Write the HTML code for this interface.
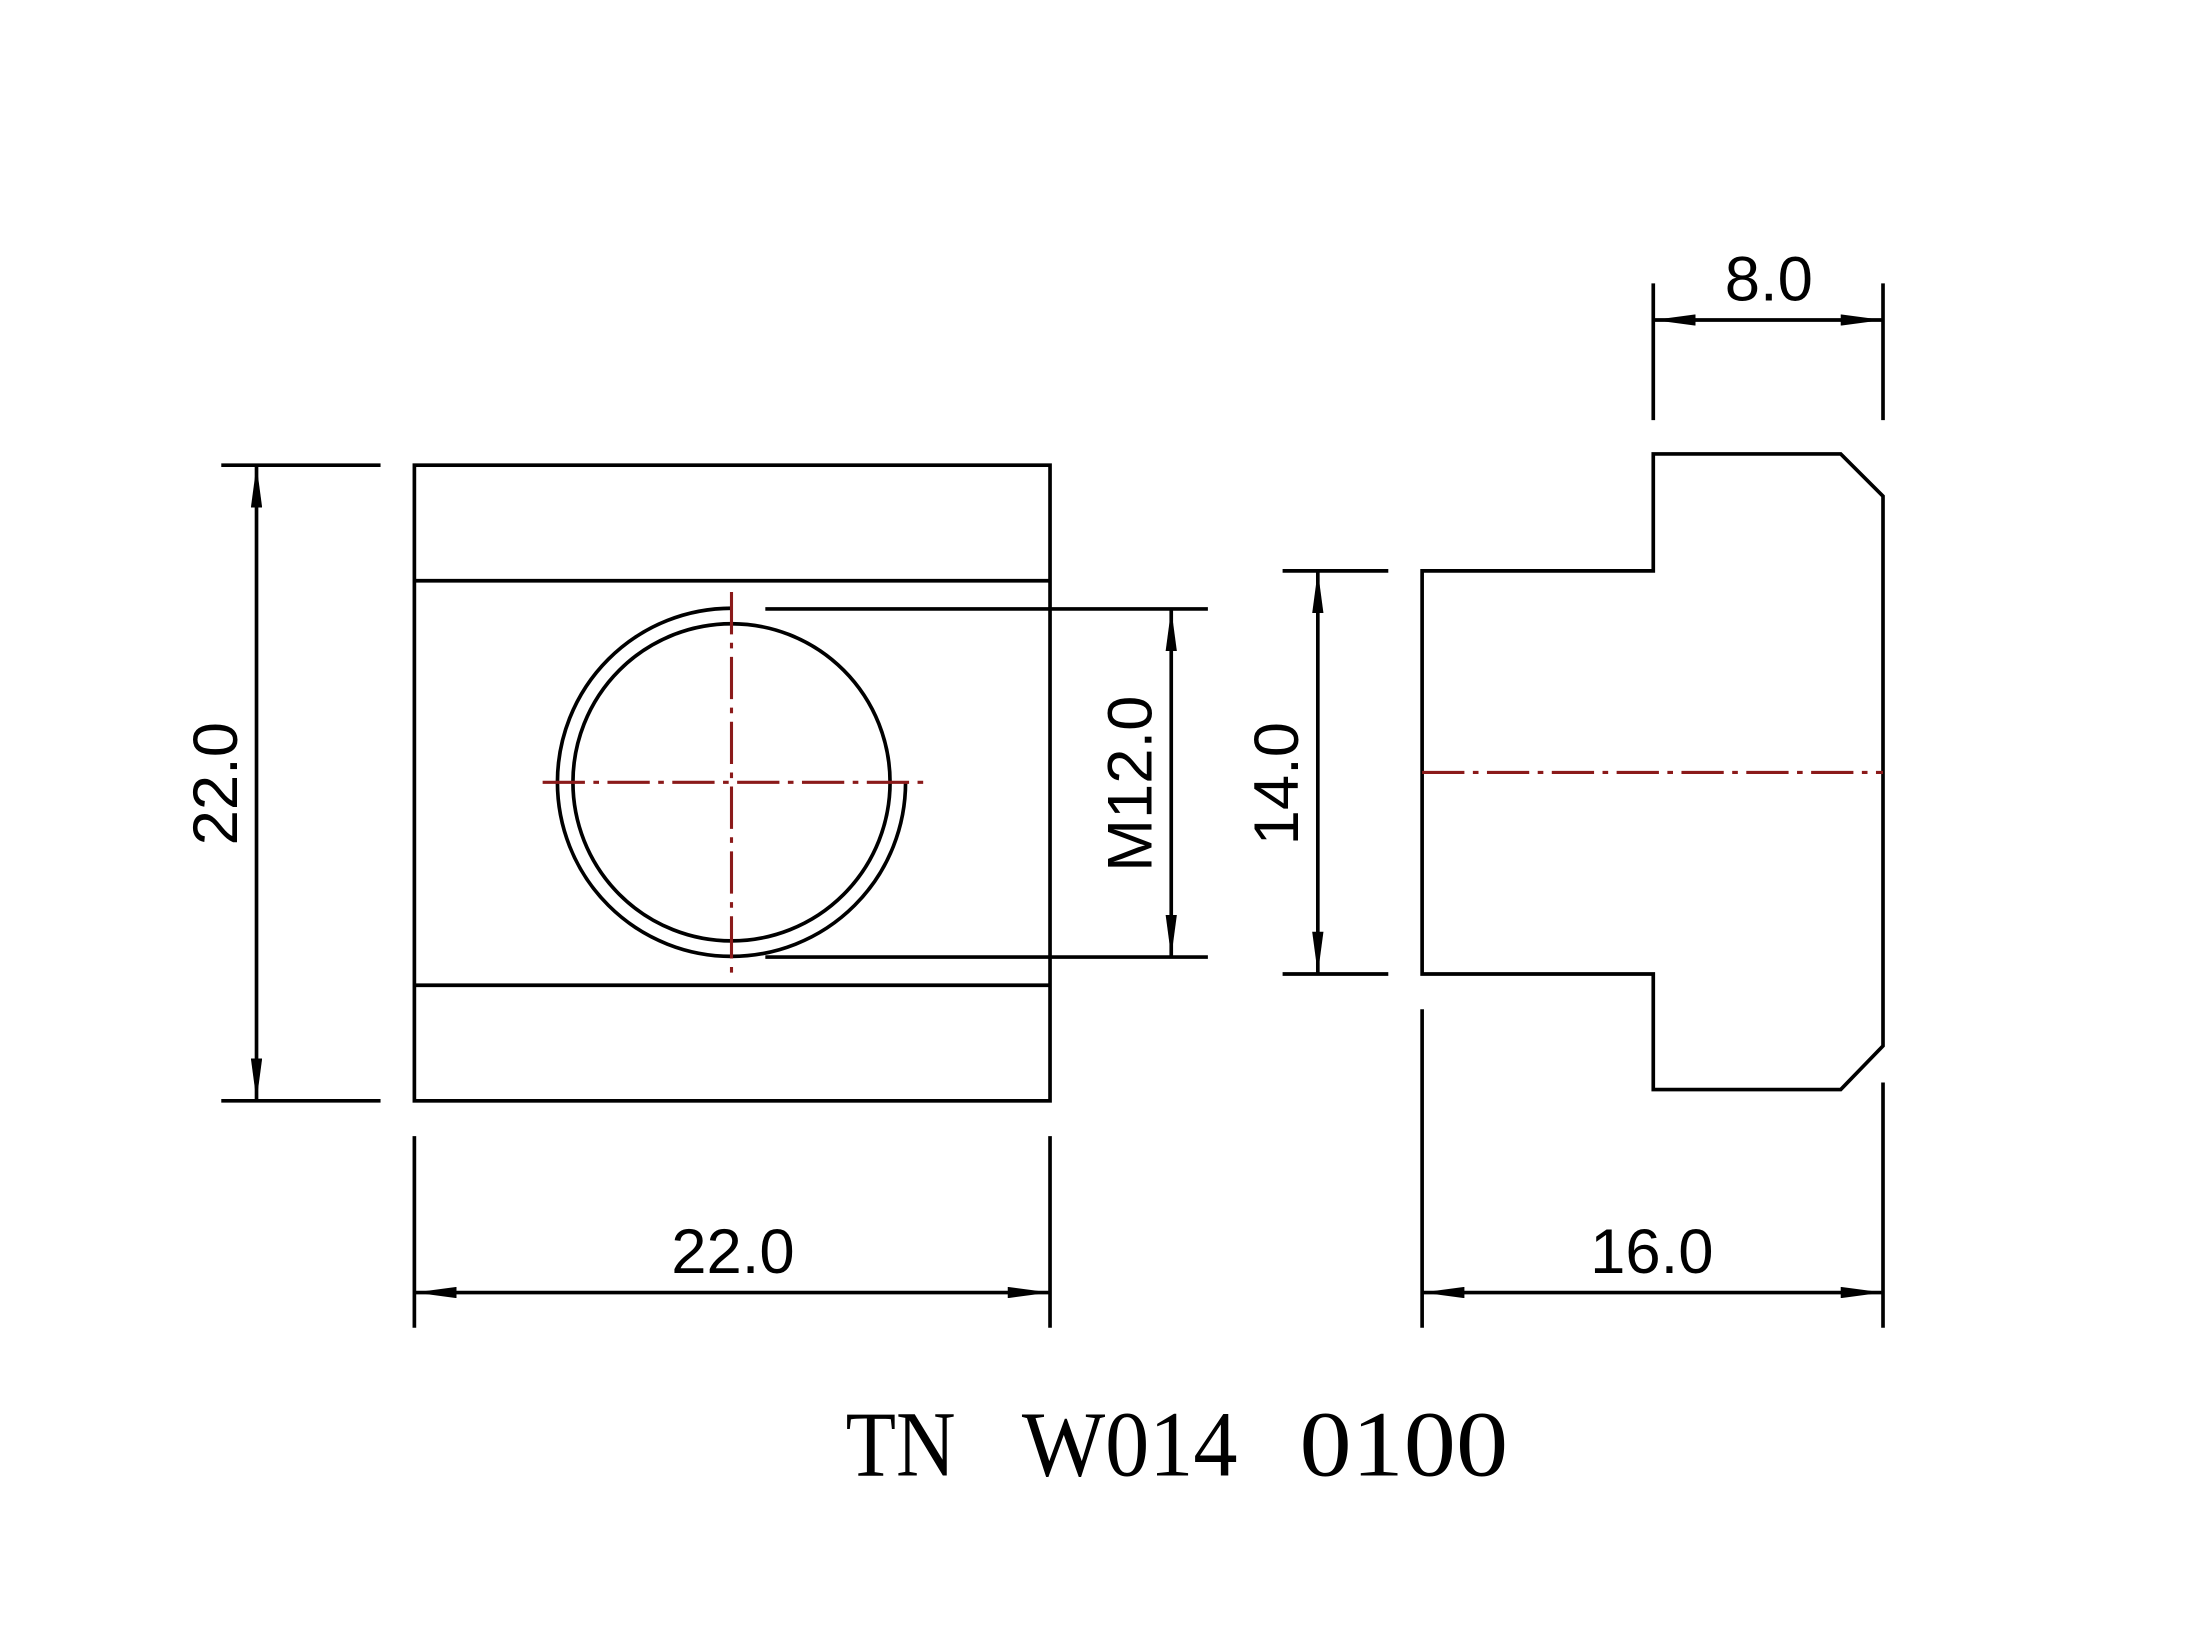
<!DOCTYPE html>
<html><head><meta charset="utf-8"><style>
html,body{margin:0;padding:0;background:#fff;}
svg{display:block;}
</style></head><body>
<svg width="2210" height="1652" viewBox="0 0 1568 1172" xmlns="http://www.w3.org/2000/svg">
<defs>
<marker id="a" viewBox="0 0 30 8" refX="30" refY="4" markerWidth="30" markerHeight="8" markerUnits="userSpaceOnUse" orient="auto-start-reverse">
<path d="M0,0 L30,4 L0,8 Z" fill="#000"/>
</marker>
</defs>
<rect width="1568" height="1172" fill="#fff"/>
<g stroke="#000" stroke-width="2.6" fill="none">
<rect x="294" y="330" width="451" height="451"/>
<line x1="294" y1="412" x2="745" y2="412"/>
<line x1="294" y1="699" x2="745" y2="699"/>
<circle cx="519" cy="555" r="112.5"/>
<path d="M519,431.5 A123.5,123.5 0 1 0 642.5,555"/>
<line x1="543" y1="432" x2="857" y2="432"/>
<line x1="543" y1="679" x2="857" y2="679"/>
<line x1="831" y1="432" x2="831" y2="679" marker-start="url(#a)" marker-end="url(#a)"/>
<line x1="157" y1="330" x2="270" y2="330"/>
<line x1="157" y1="781" x2="270" y2="781"/>
<line x1="182" y1="330" x2="182" y2="781" marker-start="url(#a)" marker-end="url(#a)"/>
<line x1="294" y1="806" x2="294" y2="942"/>
<line x1="745" y1="806" x2="745" y2="942"/>
<line x1="294" y1="917" x2="745" y2="917" marker-start="url(#a)" marker-end="url(#a)"/>
<path d="M1009,405 L1173,405 L1173,322 L1306,322 L1336,352 L1336,742 L1306,773 L1173,773 L1173,691 L1009,691 Z"/>
<line x1="910" y1="405" x2="985" y2="405"/>
<line x1="910" y1="691" x2="985" y2="691"/>
<line x1="935" y1="405" x2="935" y2="691" marker-start="url(#a)" marker-end="url(#a)"/>
<line x1="1173" y1="201" x2="1173" y2="298"/>
<line x1="1336" y1="201" x2="1336" y2="298"/>
<line x1="1173" y1="227" x2="1336" y2="227" marker-start="url(#a)" marker-end="url(#a)"/>
<line x1="1009" y1="716" x2="1009" y2="942"/>
<line x1="1336" y1="768" x2="1336" y2="942"/>
<line x1="1009" y1="917" x2="1336" y2="917" marker-start="url(#a)" marker-end="url(#a)"/>
</g>
<g stroke="#8b1a1a" stroke-width="2.2" fill="none" stroke-dasharray="30,6,4,6">
<line x1="385" y1="555" x2="655" y2="555"/>
<line x1="519" y1="420" x2="519" y2="690"/>
<line x1="1009" y1="548" x2="1336" y2="548"/>
</g>
<g font-family="'Liberation Sans', sans-serif" font-size="45" fill="#000" text-anchor="middle">
<text x="520" y="903">22.0</text>
<text x="1172" y="903">16.0</text>
<text x="1255" y="213">8.0</text>
<text transform="translate(168,556) rotate(-90)">22.0</text>
<text transform="translate(817,556) rotate(-90)">M12.0</text>
<text transform="translate(921,556) rotate(-90)">14.0</text>
</g>
<g font-family="'Liberation Serif', serif" font-size="66" fill="#000">
<text x="600" y="1047" textLength="78" lengthAdjust="spacingAndGlyphs">TN</text>
<text x="725" y="1047" textLength="153" lengthAdjust="spacingAndGlyphs">W014</text>
<text x="922" y="1047" textLength="148" lengthAdjust="spacingAndGlyphs">0100</text>
</g>
</svg>
</body></html>
